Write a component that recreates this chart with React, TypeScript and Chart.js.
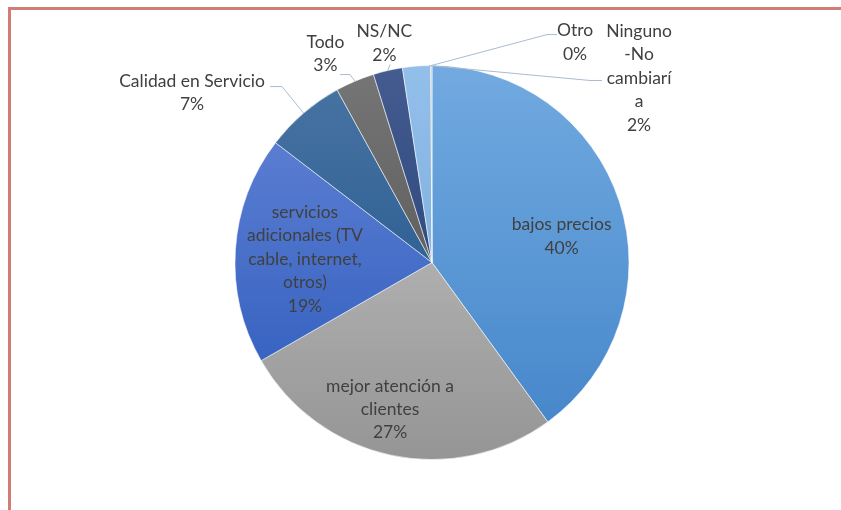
import React, { useEffect, useRef } from "react";
import { Chart, registerables } from "chart.js";
Chart.register(...registerables);

// ---- data ----
const categories = [
  "bajos precios",
  "mejor atención a clientes",
  "servicios adicionales (TV cable, internet, otros)",
  "Calidad en Servicio",
  "Todo",
  "NS/NC",
  "Ninguno-No cambiaría",
  "Otro",
];
const values = [40.0, 26.7, 18.7, 6.6, 3.2, 2.4, 2.3, 0.1];
const labelLines = [
  ["bajos precios"],
  ["mejor atención a", "clientes"],
  ["servicios", "adicionales (TV", "cable, internet,", "otros)"],
  ["Calidad en Servicio"],
  ["Todo"],
  ["NS/NC"],
  ["Ninguno", "-No", "cambiarí", "a"],
  ["Otro"],
];

// ---- styles ----
const topColors = ["#72AAE0", "#C8C8C8", "#6586D6", "#4A75A3", "#767676", "#445C8F", "#93BFEA", "#C4C4C4"];
const bottomColors = ["#4284C9", "#959595", "#2A58BB", "#174E88", "#4A4A4A", "#1C3770", "#6FA5DA", "#B0B0B0"];
// label block centres, in units of the pie radius, relative to the pie centre
const labelAnchor: [number, number][] = [
  [0.658, -0.133],
  [-0.213, 0.745],
  [-0.645, -0.017],
  [-1.218, -0.861],
  [-0.541, -1.059],
  [-0.242, -1.112],
  [1.051, -0.936],
  [0.726, -1.118],
];
// leader lines: [start, elbow|null, fraction of slice angle where it touches the edge]
const leaders: ([number, number] | null | number)[][] = [
  [],
  [],
  [],
  [[-0.822, -0.893], [-0.761, -0.893], 0.5],
  [[-0.467, -0.954], [-0.416, -0.954], 0.5],
  [[-0.213, -1.005], null, 0.5],
  [[0.863, -0.924], [0.802, -0.924], 0.95],
  [[0.635, -1.157], [0.584, -1.157], 0.5],
];
const FONT = "Lato, 'Open Sans', sans-serif";
const FONT_SIZE = 17.5;
const LINE_H = 23.4;
const TEXT_COLOR = "#404040";
const LEADER_COLOR = "#A9BBD0";

const labelPlugin = {
  id: "pieLabels",
  afterDatasetsDraw(chart: any) {
    const ctx = chart.ctx as CanvasRenderingContext2D;
    const meta = chart.getDatasetMeta(0);
    const total = values.reduce((a, b) => a + b, 0);
    ctx.save();
    meta.data.forEach((arc: any, i: number) => {
      const p = arc.getProps(["x", "y", "outerRadius", "startAngle", "endAngle"], true);
      const R = p.outerRadius;
      const ld = leaders[i];
      if (ld && ld.length) {
        const start = ld[0] as [number, number];
        const elbow = ld[1] as [number, number] | null;
        const frac = ld[2] as number;
        const a = p.startAngle + frac * (p.endAngle - p.startAngle);
        ctx.beginPath();
        ctx.strokeStyle = LEADER_COLOR;
        ctx.lineWidth = 1;
        ctx.moveTo(p.x + start[0] * R, p.y + start[1] * R);
        if (elbow) ctx.lineTo(p.x + elbow[0] * R, p.y + elbow[1] * R);
        ctx.lineTo(p.x + Math.cos(a) * R, p.y + Math.sin(a) * R);
        ctx.stroke();
      }
      const lines = [...labelLines[i], Math.round((values[i] / total) * 100) + "%"];
      const cx = p.x + labelAnchor[i][0] * R;
      const cy = p.y + labelAnchor[i][1] * R;
      ctx.fillStyle = TEXT_COLOR;
      ctx.font = `${FONT_SIZE}px ${FONT}`;
      ctx.textAlign = "center";
      ctx.textBaseline = "middle";
      const y0 = cy - ((lines.length - 1) * LINE_H) / 2;
      lines.forEach((t, k) => ctx.fillText(t, cx, y0 + k * LINE_H));
    });
    ctx.restore();
  },
};

export default function App() {
  const ref = useRef<HTMLCanvasElement>(null);
  useEffect(() => {
    if (!ref.current) return;
    const chart = new Chart(ref.current, {
      type: "pie",
      data: {
        labels: categories,
        datasets: [
          {
            data: values,
            backgroundColor: (c: any) => {
              const i = c.dataIndex;
              const area = c.chart.chartArea;
              if (!area) return topColors[i];
              const g = c.chart.ctx.createLinearGradient(0, area.top, 0, area.bottom);
              g.addColorStop(0, topColors[i]);
              g.addColorStop(1, bottomColors[i]);
              return g;
            },
            borderColor: "rgba(255,255,255,0.55)",
            borderWidth: 1,
          },
        ],
      },
      options: {
        animation: false,
        responsive: false,
        layout: { padding: { left: 200, right: 188, top: 55, bottom: 50 } },
        plugins: { legend: { display: false }, tooltip: { enabled: false } },
      },
      plugins: [labelPlugin],
    });
    return () => chart.destroy();
  }, []);
  return (
    <div
      style={{
        position: "absolute",
        left: 8,
        top: 7,
        right: 0,
        bottom: 0,
        borderTop: "3px solid #D27C76",
        borderLeft: "3px solid #D27C76",
        background: "#fff",
      }}
    >
      <canvas ref={ref} width={830} height={500} style={{ display: "block" }} />
    </div>
  );
}
